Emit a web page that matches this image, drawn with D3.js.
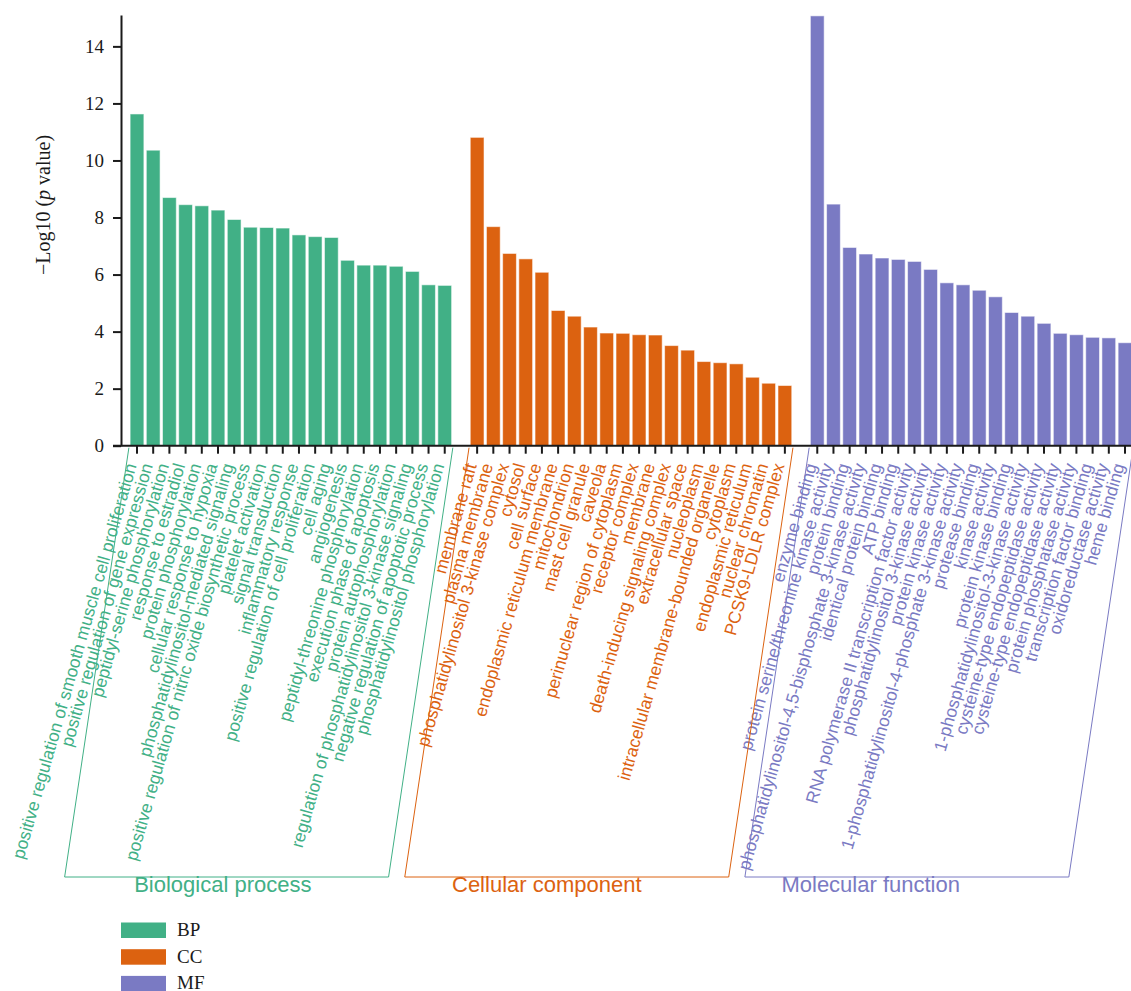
<!DOCTYPE html>
<html><head><meta charset="utf-8">
<script src="https://cdn.jsdelivr.net/npm/d3@7"></script>
<style>body{margin:0;background:#fff}svg{display:block}</style>
</head><body>
<svg id="chart" width="1131" height="991"></svg>
<script>
const groups = ["BP", "CC", "MF"];
const groupNames = ["Biological process", "Cellular component", "Molecular function"];
const groupColors = ["#41b086", "#dc6210", "#7a7ac3"];

const bpTerms = ["positive regulation of smooth muscle cell proliferation","positive regulation of gene expression","peptidyl-serine phosphorylation","response to estradiol","protein phosphorylation","cellular response to hypoxia","phosphatidylinositol-mediated signaling","positive regulation of nitric oxide biosynthetic process","platelet activation","signal transduction","inflammatory response","positive regulation of cell proliferation","cell aging","angiogenesis","peptidyl-threonine phosphorylation","execution phase of apoptosis","protein autophosphorylation","regulation of phosphatidylinositol 3-kinase signaling","negative regulation of apoptotic process","phosphatidylinositol phosphorylation"];
const bpValues = [11.63,10.36,8.70,8.45,8.41,8.26,7.93,7.66,7.65,7.63,7.39,7.33,7.30,6.50,6.33,6.33,6.29,6.11,5.64,5.62];

const ccTerms = ["membrane raft","plasma membrane","phosphatidylinositol 3-kinase complex","cytosol","cell surface","endoplasmic reticulum membrane","mitochondrion","mast cell granule","caveola","perinuclear region of cytoplasm","receptor complex","membrane","death-inducing signaling complex","extracellular space","nucleoplasm","intracellular membrane-bounded organelle","cytoplasm","endoplasmic reticulum","nuclear chromatin","PCSK9-LDLR complex"];
const ccValues = [10.81,7.68,6.74,6.55,6.08,4.74,4.54,4.16,3.95,3.94,3.89,3.88,3.51,3.35,2.95,2.91,2.87,2.40,2.19,2.11];

const mfTerms = ["enzyme binding","protein serine/threonine kinase activity","protein binding","phosphatidylinositol-4,5-bisphosphate 3-kinase activity","identical protein binding","ATP binding","RNA polymerase II transcription factor activity","phosphatidylinositol 3-kinase activity","protein kinase activity","1-phosphatidylinositol-4-phosphate 3-kinase activity","protease binding","kinase activity","protein kinase binding","1-phosphatidylinositol-3-kinase activity","cysteine-type endopeptidase activity","cysteine-type endopeptidase activity","protein phosphatase activity","transcription factor binding","oxidoreductase activity","heme binding"];
const mfValues = [15.07,8.47,6.95,6.72,6.58,6.53,6.46,6.18,5.71,5.64,5.45,5.22,4.67,4.54,4.29,3.94,3.89,3.80,3.78,3.61];

const yTicks = [0,2,4,6,8,10,12,14];
const yMax = 15.1;

// ---- build data (slots, with one empty slot between groups)
const termsByGroup = [bpTerms, ccTerms, mfTerms];
const valuesByGroup = [bpValues, ccValues, mfValues];
const data = [];
const slots = [];
termsByGroup.forEach((terms, g) => {
  terms.forEach((t, i) => {
    const slot = "s" + slots.length;
    slots.push(slot);
    data.push({slot, term: t, value: valuesByGroup[g][i], g});
  });
  if (g < termsByGroup.length - 1) slots.push("s" + slots.length);
});

const svg = d3.select("#chart");
const axisX = 121, axisY = 445.7, yTop = 15;
const x = d3.scaleBand().domain(slots).range([128.9, 1133.1]).paddingInner(0.15).paddingOuter(0.075);
const y = d3.scaleLinear().domain([0, yMax]).range([axisY, yTop]);

// bars
svg.append("g").selectAll("rect").data(data).join("rect")
  .attr("x", d => x(d.slot)).attr("width", x.bandwidth())
  .attr("y", d => y(d.value)).attr("height", d => y(0) - y(d.value))
  .attr("fill", d => groupColors[d.g])
  .attr("stroke", "#fff").attr("stroke-opacity", 0.55).attr("stroke-width", 1);

// y axis
const yAxis = svg.append("g").attr("transform", `translate(${axisX},0)`)
  .call(d3.axisLeft(y).tickValues(yTicks).tickSize(8).tickSizeOuter(0).tickPadding(9));
yAxis.select(".domain").attr("stroke", "#1a1a1a").attr("stroke-width", 2);
yAxis.selectAll(".tick line").attr("stroke", "#1a1a1a").attr("stroke-width", 2);
yAxis.selectAll(".tick text").attr("font-family", "'Liberation Serif', serif").attr("font-size", 19).attr("fill", "#1a1a1a");

// x axis line + ticks
svg.append("line").attr("x1", axisX - 8).attr("x2", 1131).attr("y1", axisY).attr("y2", axisY)
  .attr("stroke", "#1a1a1a").attr("stroke-width", 2);
svg.append("g").selectAll("line").data(data).join("line")
  .attr("x1", d => x(d.slot) + x.bandwidth()/2).attr("x2", d => x(d.slot) + x.bandwidth()/2)
  .attr("y1", axisY).attr("y2", axisY + 8)
  .attr("stroke", "#1a1a1a").attr("stroke-width", 2);

// y title
svg.append("text")
  .attr("transform", `translate(50,205) rotate(-90)`)
  .attr("text-anchor", "middle")
  .attr("font-family", "'Liberation Serif', serif").attr("font-size", 20).attr("fill", "#1a1a1a")
  .call(t => { t.append("tspan").text("\u2212Log10 ("); t.append("tspan").attr("font-style","italic").text("p"); t.append("tspan").text(" value)"); });

// rotated term labels
const angle = -74;
svg.append("g").selectAll("text").data(data).join("text")
  .attr("transform", d => `translate(${x(d.slot) + x.bandwidth()/2 - 6},${axisY + 18}) rotate(${angle})`)
  .attr("text-anchor", "end").attr("dominant-baseline", "central")
  .attr("font-family", "'Liberation Sans', Arial, sans-serif").attr("font-size", 17.5)
  .attr("fill", d => groupColors[d.g])
  .text(d => d.term);

// group brackets
const bracketBottom = 877, slant = 0.149;
const shift = (bracketBottom - axisY) * slant;
groups.forEach((gname, g) => {
  const gd = data.filter(d => d.g === g);
  const x0 = x(gd[0].slot) - x.step()*x.paddingInner()/2;
  const x1 = x(gd[gd.length-1].slot) + x.bandwidth() + x.step()*x.paddingInner()/2;
  const top = axisY + 2;
  svg.append("path")
    .attr("d", `M${x0},${top} L${x0 - shift},${bracketBottom} L${x1 - shift},${bracketBottom} L${x1},${top}`)
    .attr("fill", "none").attr("stroke", groupColors[g]).attr("stroke-width", 1);
  const cx = x(gd[0].slot) + x.bandwidth()/2 + x.step()*(5.3 - g);
  svg.append("text").attr("x", cx).attr("y", bracketBottom + 15)
    .attr("text-anchor", "middle")
    .attr("font-family", "'Liberation Sans', Arial, sans-serif").attr("font-size", 22)
    .attr("fill", groupColors[g]).text(groupNames[g]);
});

// legend
const leg = svg.append("g").selectAll("g").data(groups).join("g")
  .attr("transform", (d, i) => `translate(121,${922.5 + i*26.7})`);
leg.append("rect").attr("width", 45).attr("height", 15.5).attr("fill", (d, i) => groupColors[i]);
leg.append("text").attr("x", 56).attr("y", 13.5)
  .attr("font-family", "'Liberation Serif', serif").attr("font-size", 19).attr("fill", "#1a1a1a")
  .text(d => d);
</script>
</body></html>
